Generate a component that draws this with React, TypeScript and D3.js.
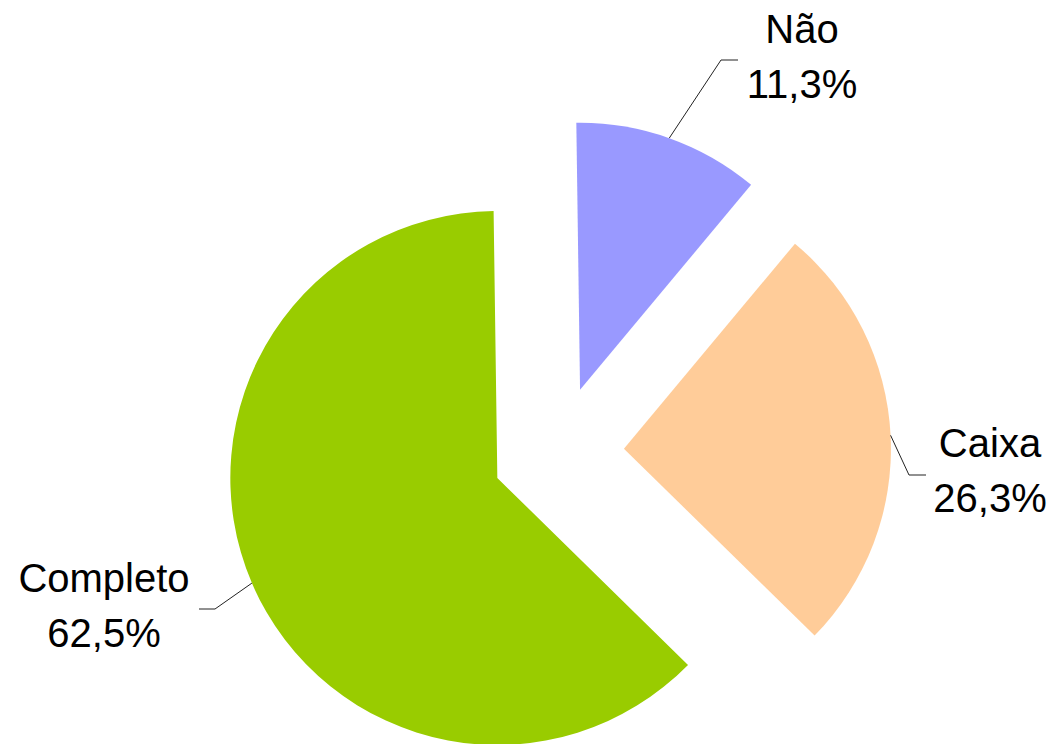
import React from "react";
import * as d3 from "d3";

const categories = ["Não", "Caixa", "Completo"];
const values = [11.3, 26.3, 62.5];
const valueLabels = ["11,3%", "26,3%", "62,5%"];
const colors = ["#9999ff", "#ffcc99", "#99cc00"];

// layout (not data)
const W = 1052;
const H = 744;
const CX = 558;
const CY = 452;
const R = 267;
const EXPLODE = 66;
const START = (-0.8 * Math.PI) / 180;
const labelLayout = [
  { elbow: [721, 60], end: [738, 60], tx: 802, ty: 43 },
  { elbow: [909, 475], end: [926, 475], tx: 990, ty: 457 },
  { elbow: [215, 609], end: [199, 609], tx: 104, ty: 592 },
];

export default function App() {
  const pie = d3
    .pie<number>()
    .sort(null)
    .value((d) => d)
    .startAngle(START)
    .endAngle(START + 2 * Math.PI);
  const arcs = pie(values);
  const arc = d3.arc<d3.PieArcDatum<number>>().innerRadius(0).outerRadius(R);

  return (
    <svg
      width={W}
      height={H}
      style={{ position: "absolute", left: 0, top: 0, display: "block", background: "#fff" }}
    >
      {arcs.map((a, i) => {
        const mid = (a.startAngle + a.endAngle) / 2;
        const ox = CX + EXPLODE * Math.sin(mid);
        const oy = CY - EXPLODE * Math.cos(mid);
        const sx = ox + R * Math.sin(mid);
        const sy = oy - R * Math.cos(mid);
        const L = labelLayout[i];
        return (
          <g key={categories[i]}>
            <path d={arc(a) || ""} transform={`translate(${ox},${oy})`} fill={colors[i]} />
            <polyline
              points={`${sx},${sy} ${L.elbow[0]},${L.elbow[1]} ${L.end[0]},${L.end[1]}`}
              fill="none"
              stroke="#222"
              strokeWidth={1}
            />
            <text
              x={L.tx}
              y={L.ty}
              textAnchor="middle"
              fontFamily="'Liberation Sans', Arial, sans-serif"
              fontSize={40}
              fill="#000"
            >
              <tspan x={L.tx} y={L.ty}>{categories[i]}</tspan>
              <tspan x={L.tx} y={L.ty + 55}>{valueLabels[i]}</tspan>
            </text>
          </g>
        );
      })}
    </svg>
  );
}
